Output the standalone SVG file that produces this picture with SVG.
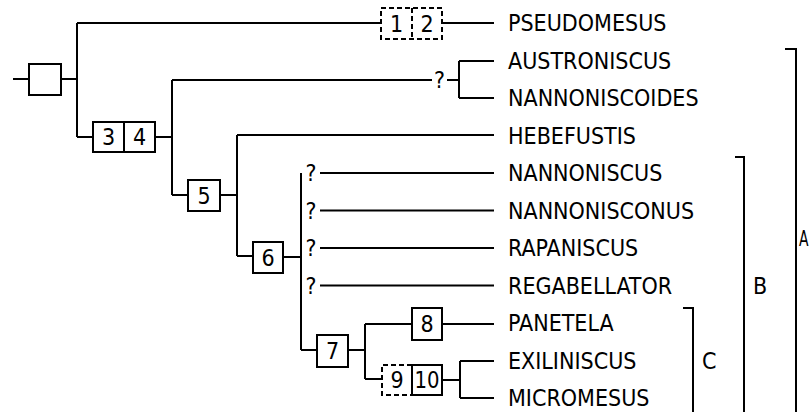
<svg xmlns="http://www.w3.org/2000/svg" width="811" height="412" viewBox="0 0 811 412">
<style>
.ln{stroke:#000;stroke-width:2;fill:none}
.bx{fill:#fff;stroke:#000;stroke-width:2}
.dsh{stroke-dasharray:5 3}
.t{font-family:"DejaVu Sans Condensed","DejaVu Sans",sans-serif;font-stretch:condensed;font-size:23px;fill:#000}
.c{text-anchor:middle}
</style>
<rect width="811" height="412" fill="#fff"/>
<g id="connectors" class="ln">
<path d="M13,79H29"/>
<path d="M61,79H77M77,23V137"/>
<path d="M77,23H381M442,23H494"/>
<path d="M77,137H93M155,137H172M172,80V195"/>
<path d="M172,80H432M447,80H459M459,61V98M459,61H494M459,98H494"/>
<path d="M172,195H188M220,195H237M237,135V256M237,135H494M237,256H253"/>
<path d="M283,257H301M301,173V350"/>
<path d="M320,173H494M320,210.5H494M320,248H494M320,285.5H494"/>
<path d="M301,350H317M348,350H365M365,324V379M365,324H412M442,324H494"/>
<path d="M365,379H382M442,380H460M460,361V398M460,361H494M460,398H494"/>
</g>
<g id="root"><rect class="bx" x="29" y="64" width="32" height="31"/></g>
<g id="box12">
<rect class="bx dsh" x="381" y="8" width="61" height="31"/>
<path class="ln dsh" d="M412,8V39"/>
<text class="t c" x="396.5" y="32">1</text>
<text class="t c" x="427" y="32">2</text>
</g>
<g id="box34">
<rect class="bx" x="93" y="122" width="62" height="30"/>
<path class="ln" d="M124,122V152"/>
<text class="t c" x="108.5" y="145">3</text>
<text class="t c" x="139.5" y="145">4</text>
</g>
<g id="box5"><rect class="bx" x="188" y="180" width="32" height="31"/><text class="t c" x="204" y="204">5</text></g>
<g id="box6"><rect class="bx" x="253" y="242" width="30" height="31"/><text class="t c" x="268" y="266">6</text></g>
<g id="box7"><rect class="bx" x="317" y="335" width="31" height="32"/><text class="t c" x="332.5" y="359">7</text></g>
<g id="box8"><rect class="bx" x="412" y="308" width="30" height="32"/><text class="t c" x="427" y="332">8</text></g>
<g id="box910">
<path class="ln dsh" d="M412,365H382V395H412"/>
<rect class="bx" x="412" y="365" width="30" height="30"/>
<text class="t c" x="397" y="388">9</text>
<text class="t c" x="427" y="388" textLength="25" lengthAdjust="spacingAndGlyphs">10</text>
</g>
<g id="q-marks">
<text class="t c" x="439.5" y="88">?</text>
<text class="t c" x="311" y="181">?</text>
<text class="t c" x="311" y="218.5">?</text>
<text class="t c" x="311" y="256">?</text>
<text class="t c" x="311" y="293.5">?</text>
</g>
<g id="taxa" class="t">
<text x="508" y="31">PSEUDOMESUS</text>
<text x="508" y="68.5">AUSTRONISCUS</text>
<text x="508" y="106">NANNONISCOIDES</text>
<text x="508" y="143.5">HEBEFUSTIS</text>
<text x="508" y="181">NANNONISCUS</text>
<text x="508" y="218.5">NANNONISCONUS</text>
<text x="508" y="256">RAPANISCUS</text>
<text x="508" y="293.5">REGABELLATOR</text>
<text x="508" y="331">PANETELA</text>
<text x="508" y="368.5">EXILINISCUS</text>
<text x="508" y="406">MICROMESUS</text>
</g>
<g id="bracketA"><path class="ln" d="M785,49H796V412"/><text class="t" x="799" y="246" style="font-size:21px" textLength="9.5" lengthAdjust="spacingAndGlyphs">A</text></g>
<g id="bracketB"><path class="ln" d="M735,157H744V412"/><text class="t" x="753" y="294">B</text></g>
<g id="bracketC"><path class="ln" d="M683,308H693V412"/><text class="t" x="702" y="369">C</text></g>
</svg>
